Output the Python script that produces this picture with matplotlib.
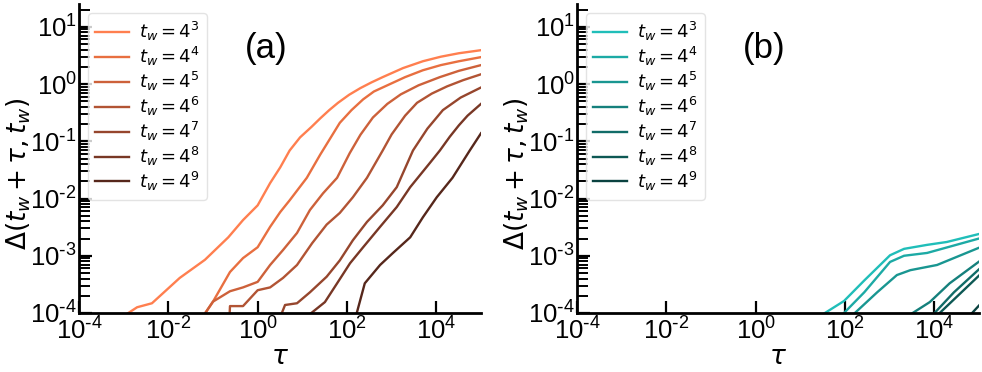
import matplotlib
matplotlib.use("Agg")
import matplotlib.pyplot as plt
import numpy as np
from matplotlib.ticker import LogLocator, NullLocator, FixedLocator, FuncFormatter

plt.rcParams['font.family'] = ['Liberation Sans', 'DejaVu Sans']
plt.rcParams['mathtext.fontset'] = 'dejavusans'
plt.rcParams['axes.unicode_minus'] = False

# ---------------- data: panel (a) ----------------
tw_labels = [r'$t_w = 4^3$', r'$t_w = 4^4$', r'$t_w = 4^5$', r'$t_w = 4^6$',
             r'$t_w = 4^7$', r'$t_w = 4^8$', r'$t_w = 4^9$']

a_tau_1 = [8e-4, 2e-3, 4.3e-3, 1.8e-2, 6.6e-2, 0.22, 0.47, 1.0, 1.9, 3.2, 5.2, 8.9, 16, 25, 40, 63,
           112, 200, 355, 630, 1800, 5000, 1.26e4, 3.2e4, 1e5]
a_val_1 = [7.9e-5, 1.26e-4, 1.48e-4, 4.1e-4, 8.5e-4, 2.1e-3, 4.2e-3, 7.6e-3, 1.86e-2, 3.5e-2, 6.9e-2, 0.117, 0.178, 0.25, 0.35, 0.47,
           0.65, 0.85, 1.07, 1.32, 1.9, 2.5, 3.0, 3.45, 3.9]
a_tau_2 = [0.045, 0.1, 0.24, 0.47, 1.0, 1.9, 3.2, 5.2, 12.6, 25, 69, 126, 230, 400, 710, 2000, 5000, 1.26e4, 3.2e4, 1e5]
a_val_2 = [6.3e-5, 1.58e-4, 5.2e-4, 9.1e-4, 1.41e-3, 3.2e-3, 5.8e-3, 9.3e-3, 2.3e-2, 5.8e-2, 0.21, 0.35, 0.54, 0.74, 0.91, 1.32, 1.74, 2.14, 2.5, 2.95]
a_tau_3 = [0.045, 0.1, 0.24, 0.47, 1.0, 1.9, 3.7, 7.6, 14.8, 29, 60, 115, 200, 380, 800, 1600, 4000, 1.2e4, 3.2e4, 1e5]
a_val_3 = [6.3e-5, 1.58e-4, 2.4e-4, 2.8e-4, 3.5e-4, 6.9e-4, 1.26e-3, 2.5e-3, 6.3e-3, 1.23e-2, 2.3e-2, 6.2e-2, 0.13, 0.26, 0.45, 0.66, 0.95, 1.32, 1.7, 2.14]
a_tau_4 = [0.23, 0.24, 0.47, 1.0, 1.9, 3.7, 7.6, 16.6, 35, 69, 135, 280, 630, 1000, 2000, 3700, 7900, 1.74e4, 4e4, 1e5]
a_val_4 = [6.3e-5, 1.32e-4, 1.32e-4, 2.5e-4, 2.8e-4, 4.1e-4, 6.9e-4, 1.66e-3, 3.5e-3, 5.6e-3, 1.05e-2, 2.3e-2, 6.9e-2, 0.132, 0.28, 0.47, 0.68, 0.91, 1.17, 1.48]
a_tau_5 = [2.75, 4.1, 7.6, 14.8, 35, 69, 135, 280, 630, 1300, 3000, 6300, 1.4e4, 3.5e4, 1e5]
a_val_5 = [6.3e-5, 1.38e-4, 1.48e-4, 2.3e-4, 4.3e-4, 8.3e-4, 1.86e-3, 3.9e-3, 7.6e-3, 1.58e-2, 6.9e-2, 0.166, 0.35, 0.58, 0.87]
a_tau_6 = [13.2, 32, 60, 117, 230, 550, 1300, 2600, 7200, 1.2e4, 2e4, 3.2e4, 5e4, 1e5]
a_val_6 = [8.9e-5, 1.55e-4, 3.3e-4, 7.4e-4, 1.41e-3, 3.2e-3, 7.1e-3, 1.58e-2, 4.2e-2, 6.9e-2, 0.12, 0.19, 0.28, 0.45]
a_tau_7 = [141, 250, 550, 1070, 2600, 5000, 1.02e4, 2.3e4, 5.6e4, 1e5]
a_val_7 = [6.3e-5, 3.3e-4, 6.9e-4, 1.12e-3, 2.1e-3, 4.7e-3, 1.05e-2, 2.3e-2, 6.9e-2, 0.138]

# ---------------- data: panel (b) ----------------
b_tau_1 = [32, 95, 270, 1020, 2100, 6900, 1.9e4, 1e5]
b_val_1 = [9.5e-5, 1.62e-4, 3.7e-4, 1.02e-3, 1.32e-3, 1.55e-3, 1.74e-3, 2.4e-3]
b_tau_2 = [89, 270, 1020, 2100, 6900, 1e5]
b_val_2 = [9.5e-5, 2.3e-4, 7.8e-4, 1.0e-3, 1.12e-3, 2.0e-3]
b_tau_3 = [155, 525, 1450, 2900, 1.15e4, 1e5]
b_val_3 = [9.5e-5, 2.3e-4, 4.6e-4, 5.6e-4, 6.9e-4, 1.38e-3]
b_tau_4 = [2950, 7900, 2.2e4, 1e5]
b_val_4 = [9.5e-5, 1.55e-4, 3.3e-4, 7.9e-4]
b_tau_5 = [9500, 2.75e4, 1e5]
b_val_5 = [9.5e-5, 2.3e-4, 5.8e-4]
b_tau_6 = [1.23e4, 1e5]
b_val_6 = [9.5e-5, 4.5e-4]
b_tau_7 = [6.6e4, 1e5]
b_val_7 = [9.5e-5, 1.35e-4]

a_colors = ['#FF7F4F', '#E86F40', '#CD613A', '#B25434', '#96462D', '#783725', '#56271B']
b_colors = ['#20BEB9', '#1CAAA5', '#199691', '#15807C', '#116C68', '#0D5854', '#0A4240']

panel_a = [(a_tau_1, a_val_1), (a_tau_2, a_val_2), (a_tau_3, a_val_3), (a_tau_4, a_val_4),
           (a_tau_5, a_val_5), (a_tau_6, a_val_6), (a_tau_7, a_val_7)]
panel_b = [(b_tau_1, b_val_1), (b_tau_2, b_val_2), (b_tau_3, b_val_3), (b_tau_4, b_val_4),
           (b_tau_5, b_val_5), (b_tau_6, b_val_6), (b_tau_7, b_val_7)]


def pow10_label(v, pos):
    e = int(round(np.log10(v)))
    s = str(e).replace('-', r'\text{-}')
    return r'$\mathdefault{10^{%s}}$' % s


W, H = 982, 372
fig = plt.figure(figsize=(W / 100, H / 100), dpi=100)
ax_a = fig.add_axes([79 / W, 1 - 313 / H, (481 - 79) / W, (313 - 4) / H])
ax_b = fig.add_axes([577 / W, 1 - 313 / H, (979 - 577) / W, (313 - 4) / H])

for ax, data, colors, tag in [(ax_a, panel_a, a_colors, '(a)'), (ax_b, panel_b, b_colors, '(b)')]:
    for (t, v), c, lab in zip(data, colors, tw_labels):
        ax.plot(t, v, color=c, lw=1.7, label=lab)
    ax.set_xscale('log')
    ax.set_yscale('log')
    ax.set_xlim(1e-4, 1e5)
    ax.set_ylim(1e-4, 25)
    ax.xaxis.set_major_locator(FixedLocator([1e-4, 1e-2, 1e0, 1e2, 1e4]))
    ax.xaxis.set_minor_locator(NullLocator())
    ax.yaxis.set_major_locator(FixedLocator([1e-4, 1e-3, 1e-2, 1e-1, 1e0, 1e1]))
    ax.yaxis.set_minor_locator(LogLocator(base=10, subs=range(2, 10), numticks=20))
    ax.xaxis.set_major_formatter(FuncFormatter(pow10_label))
    ax.yaxis.set_major_formatter(FuncFormatter(pow10_label))
    for s in ['top', 'right']:
        ax.spines[s].set_visible(False)
    for s in ['left', 'bottom']:
        ax.spines[s].set_linewidth(2)
    ax.tick_params(which='major', direction='in', length=9, width=1.6, labelsize=18.5)
    ax.tick_params(axis='y', which='major', pad=1.5)
    ax.tick_params(axis='x', which='major', pad=3)
    ax.tick_params(which='minor', direction='in', length=8, width=1.4)
    ax.set_xlabel(r'$\tau$', fontsize=19)
    ax.xaxis.set_label_coords(0.5, -0.105)
    ax.set_ylabel(r'$\Delta(t_w + \tau, t_w)$', fontsize=19)
    ax.yaxis.set_label_coords(-0.115, 0.45)
    ax.text(0.465, 0.855, tag, transform=ax.transAxes, fontsize=25, ha='center', va='center')
    leg = ax.legend(loc='upper left', fontsize=13, handlelength=1.85, labelspacing=0.1,
                    borderaxespad=0.5, handletextpad=0.55, borderpad=0.4,
                    framealpha=0.8, fancybox=True)
    leg.get_frame().set_edgecolor('#dddddd')

fig.savefig('out.png', dpi=100)
